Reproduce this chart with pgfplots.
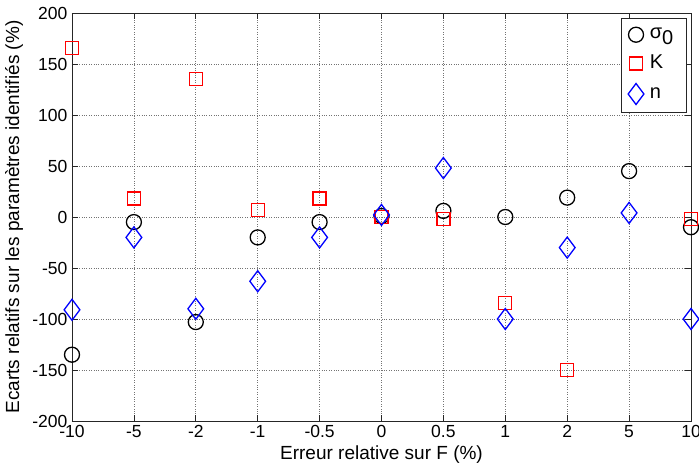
\documentclass[border=0pt]{standalone}
\usepackage{pgfplots}
\pgfplotsset{compat=1.18}
\usepackage{fontspec}
\setmainfont{Liberation Sans}
\begin{document}
\fontsize{16.5}{19}\selectfont
\begin{tikzpicture}
\path[use as bounding box] (-72pt,-45pt) rectangle (627pt,421pt);
\begin{axis}[
  at={(0,0)}, anchor=south west,
  scale only axis, width=619pt, height=408pt,
  xmin=0, xmax=10, ymin=-200, ymax=200,
  xtick={0,1,2,3,4,5,6,7,8,9,10},
  xticklabels={-10,-5,-2,-1,-0.5,0,0.5,1,2,5,10},
  ytick={-200,-150,-100,-50,0,50,100,150,200},
  /pgf/number format/assume math mode=true,
  tick align=inside, major tick length=6pt,
  tick style={black!85, line width=0.6pt},
  axis line style={black!85, line width=0.6pt},
  grid=major, grid style={dotted, black!55, line width=0.6pt},
  ticklabel style={font=\fontsize{17.5}{20}\selectfont},
  xticklabel style={yshift=1pt},
  yticklabel style={xshift=1pt},
  label style={font=\fontsize{19}{22}\selectfont},
  xlabel={Erreur relative sur F (\%)},
  ylabel={Ecarts relatifs sur les paramètres identifiés (\%)},
  xlabel style={yshift=4pt},
  ylabel style={yshift=-2pt},
  clip=false,
  legend style={at={(0.993,0.988)}, anchor=north east, draw=black!85, line width=0.6pt,
    font=\fontsize{20}{23}\selectfont, inner xsep=7pt, inner ysep=8pt, row sep=10pt,
    nodes={inner xsep=6pt}},
  legend cell align=left,
]
\addplot[only marks, mark=o, mark size=7.5pt, black, line width=1.3pt] coordinates {
(0,-135) (1,-5) (2,-103) (3,-20) (4,-5) (5,1) (6,6) (7,0) (8,19) (9,45) (10,-10)};
\addlegendentry{σ\raisebox{-0.5ex}{0}}
\addplot[only marks, mark=square, mark size=6.5pt, red, line width=1.3pt] coordinates {
(0,166) (1,18) (2,135) (3,7) (4,18) (5,0) (6,-2) (7,-84) (8,-150) (10,-2)};
\addlegendentry{K}
\addplot[only marks, mark=diamond, mark size=10.5pt, blue, line width=1.3pt] coordinates {
(0,-91) (1,-20) (2,-90) (3,-63) (4,-20) (5,2) (6,48) (7,-100) (8,-30) (9,4) (10,-100)};
\addlegendentry{n}
\end{axis}
\end{tikzpicture}
\end{document}
